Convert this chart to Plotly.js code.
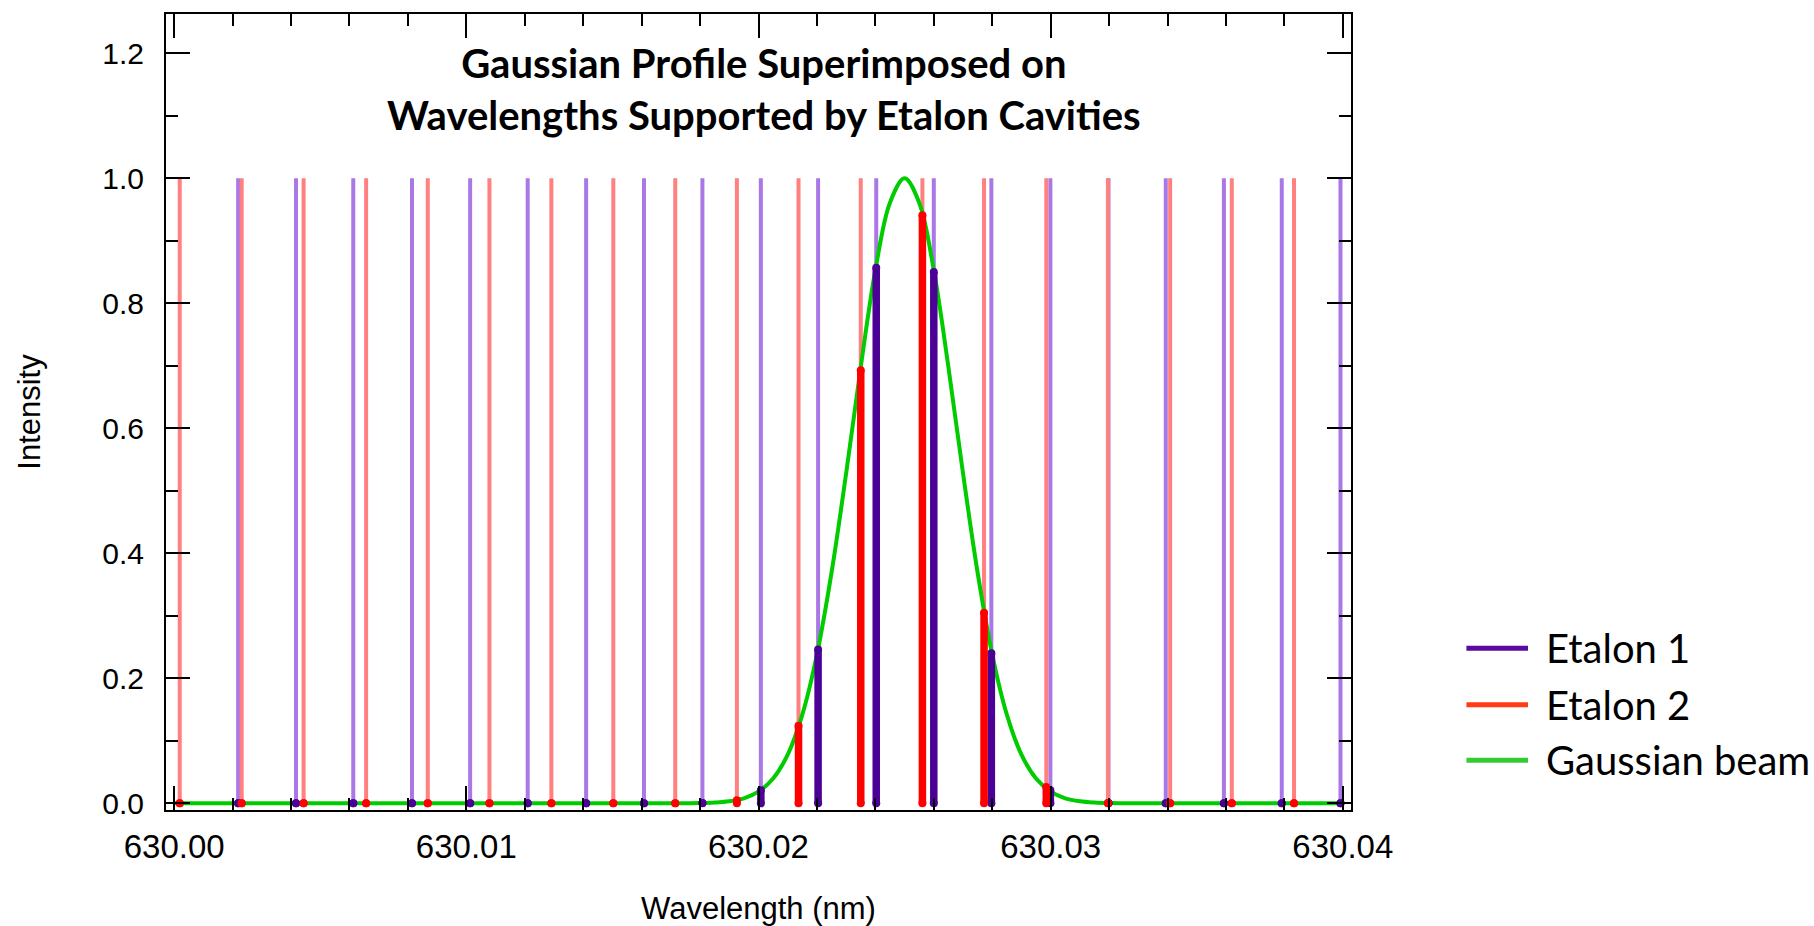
<!DOCTYPE html>
<html><head><meta charset="utf-8">
<script src="https://cdn.plot.ly/plotly-3.0.1.min.js"></script>
<style>html,body{margin:0;padding:0;background:#fff;}#chart{width:1814px;height:926px;}</style>
</head><body><div id="chart"></div>
<script>
// ---- data ----
const seriesNames = ['Etalon 1', 'Etalon 2', 'Gaussian beam'];

const etalon1X = [630.00219, 630.00417, 630.00613, 630.00814, 630.01013, 630.01210, 630.01410, 630.01608, 630.01808, 630.02008,
                  630.02204, 630.02403, 630.02600, 630.02797, 630.02999, 630.03198, 630.03394, 630.03593, 630.03791, 630.03992];
const etalon1Full = [1, 1, 1, 1, 1, 1, 1, 1, 1, 1, 1, 1, 1, 1, 1, 1, 1, 1, 1, 1];
const etalon1Trans = [0, 0, 0, 0, 0, 0, 0, 0, 0.0004, 0.021, 0.246, 0.857, 0.850, 0.240, 0.021, 0.0005, 0, 0, 0, 0];

const etalon2X = [630.00019, 630.00231, 630.00443, 630.00657, 630.00868, 630.01079, 630.01291, 630.01503, 630.01715, 630.01926,
                  630.02137, 630.02350, 630.02561, 630.02772, 630.02985, 630.03196, 630.03409, 630.03620, 630.03833];
const etalon2Full = [1, 1, 1, 1, 1, 1, 1, 1, 1, 1, 1, 1, 1, 1, 1, 1, 1, 1, 1];
const etalon2Trans = [0, 0, 0, 0, 0, 0, 0, 0, 0, 0.005, 0.124, 0.693, 0.941, 0.305, 0.026, 0.0004, 0, 0, 0];

const gaussX = [630.000, 630.005, 630.010, 630.015, 630.0170, 630.0180, 630.0185, 630.0190, 630.0195, 630.0200,
                630.0205, 630.0210, 630.0215, 630.0220, 630.0225, 630.0230, 630.0235, 630.0240, 630.0245, 630.0250,
                630.0255, 630.0260, 630.0265, 630.0270, 630.0275, 630.0280, 630.0285, 630.0290, 630.0295, 630.0300,
                630.0305, 630.0310, 630.0315, 630.0320, 630.0330, 630.035, 630.040];
const gaussY = [0, 0, 0, 0, 0.0000, 0.0004, 0.0012, 0.0032, 0.0080, 0.0186,
                0.0396, 0.078, 0.142, 0.238, 0.369, 0.528, 0.698, 0.853, 0.961, 1.000,
                0.961, 0.853, 0.698, 0.528, 0.369, 0.238, 0.142, 0.078, 0.0396, 0.0186,
                0.0080, 0.0032, 0.0012, 0.0004, 0.0000, 0, 0];

const legendColors = ['#5a0aa0', '#ff3c14', '#33cc33'];

// ---- helpers: build vertical stem paths from the data ----
function stems(xs, ys) {
  const X = [], Y = [];
  xs.forEach((x, i) => { X.push(x, x, null); Y.push(0, ys[i], null); });
  return { X, Y };
}
const e1Full = stems(etalon1X, etalon1Full);
const e2Full = stems(etalon2X, etalon2Full);
const e1T = stems(etalon1X, etalon1Trans);
const e2T = stems(etalon2X, etalon2Trans);

const traces = [
  { x: e1Full.X, y: e1Full.Y, mode: 'lines', line: { color: '#aa78e6', width: 4 }, showlegend: false, hoverinfo: 'skip' },
  { x: e2Full.X, y: e2Full.Y, mode: 'lines', line: { color: '#ff8080', width: 4 }, showlegend: false, hoverinfo: 'skip' },
  { x: gaussX, y: gaussY, name: seriesNames[2], mode: 'lines', line: { color: '#00cc00', width: 4, shape: 'spline', smoothing: 1 }, showlegend: false },
  { x: e1T.X, y: e1T.Y, name: seriesNames[0], mode: 'lines+markers', line: { color: '#4b0096', width: 7.5 },
    marker: { color: '#4b0096', size: 8 }, showlegend: false, cliponaxis: false },
  { x: e2T.X, y: e2T.Y, name: seriesNames[1], mode: 'lines+markers', line: { color: '#ff0000', width: 7.5 },
    marker: { color: '#ff0000', size: 8 }, showlegend: false, cliponaxis: false }
];

// legend drawn as layout decoration (long line samples like the reference)
const legX0 = 1.0974, legX1 = 1.1494, legTextX = 1.1626;
const legY = [0.2031, 0.1322, 0.0626];
const shapes = seriesNames.map((n, i) => ({
  type: 'line', xref: 'paper', yref: 'paper', x0: legX0, x1: legX1, y0: legY[i], y1: legY[i],
  line: { color: legendColors[i], width: 5 }
}));
const annotations = seriesNames.map((n, i) => ({
  xref: 'paper', yref: 'paper', x: legTextX, y: legY[i], xanchor: 'left', yanchor: 'middle',
  text: n, showarrow: false, font: { family: 'Lato', size: 40, color: '#000' }
}));
annotations.push({
  xref: 'paper', yref: 'paper', x: 0.505, y: 0.906, xanchor: 'center', yanchor: 'middle',
  text: 'Gaussian Profile Superimposed on<br>Wavelengths Supported by Etalon Cavities',
  showarrow: false, font: { family: 'Lato', size: 40, weight: 700, color: '#000' }
});

const axisCommon = {
  showline: true, linecolor: '#000', linewidth: 2, mirror: 'ticks',
  ticks: 'inside', ticklen: 24, tickwidth: 2, tickcolor: '#000',
  showgrid: false, zeroline: false
};

const layout = {
  width: 1814, height: 926,
  paper_bgcolor: '#fff', plot_bgcolor: '#fff',
  margin: { l: 166, r: 463, t: 14, b: 116 },
  showlegend: false,
  xaxis: Object.assign({}, axisCommon, {
    range: [629.99972, 630.04028], tick0: 630, dtick: 0.01, tickformat: '.2f',
    tickfont: { family: 'Liberation Sans', size: 33, color: '#000' },
    minor: { ticks: 'inside', ticklen: 12, tickwidth: 2, tickcolor: '#000', dtick: 0.002, tick0: 630 },
    ticklabelstandoff: 6,
    title: { text: 'Wavelength (nm)', font: { family: 'Liberation Sans', size: 31, color: '#000' }, standoff: 34 }
  }),
  yaxis: Object.assign({}, axisCommon, {
    range: [-0.0107, 1.2629], tick0: 0, dtick: 0.2, tickformat: '.1f',
    tickfont: { family: 'Liberation Sans', size: 30, color: '#000' },
    minor: { ticks: 'inside', ticklen: 12, tickwidth: 2, tickcolor: '#000', dtick: 0.1, tick0: 0 },
    ticklabelstandoff: 14,
    title: { text: 'Intensity', font: { family: 'Liberation Sans', size: 31, color: '#000' }, standoff: 52 }
  }),
  shapes: shapes,
  annotations: annotations
};

Plotly.newPlot('chart', traces, layout, { staticPlot: true, displayModeBar: false });
</script>
</body></html>
